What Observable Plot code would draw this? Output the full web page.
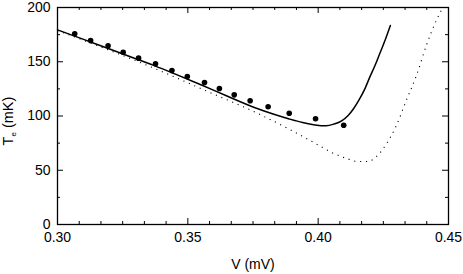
<!DOCTYPE html>
<html>
<head>
<meta charset="utf-8">
<script src="https://cdn.jsdelivr.net/npm/d3@7"></script>
<script src="https://cdn.jsdelivr.net/npm/@observablehq/plot@0.6"></script>
<style>
  html, body { margin: 0; padding: 0; background: #fff; }
  svg { display: block; }
</style>
</head>
<body>
<div id="chart"></div>
<script>
// Measured points (dots)
const dotsV = [0.3066,0.3127,0.3194,0.3252,0.3311,0.3376,0.3439,0.3498,0.3564,0.3621,0.3678,0.3739,0.3808,0.3889,0.3990,0.4098];
const dotsT = [175.8,169.6,164.7,158.8,153.3,148.1,141.9,136.4,130.9,125.3,119.5,114.0,108.5,102.6,97.4,91.5];

// Solid curve
const solidV = [0.300,0.310,0.320,0.330,0.3376,0.345,0.355,0.365,0.3758,0.3830,0.3886,0.3940,0.3988,0.4030,0.4060,0.4090,0.4115,0.4135,0.4159,0.4180,0.4198,0.4218,0.4236,0.4257,0.4277];
const solidT = [179.4,170.6,161.8,152.8,146.0,138.8,128.8,118.4,107.6,101.6,97.5,94.0,91.8,91.0,92.5,95.5,100.5,106.5,115.8,125.5,135.8,146.5,157.3,170.0,183.4];

// Dotted curve
const dottedV = [0.300,0.3185,0.3376,0.3567,0.3758,0.3886,0.3988,0.4058,0.4115,0.4153,0.4192,0.4224,0.4262,0.4300,0.4338,0.4377,0.4415,0.4453,0.4476];
const dottedT = [178.8,161.9,143.5,123.5,103.5,88.2,74.9,65.7,60.4,58.1,58.1,62.7,74.4,91.2,114.3,137.3,165.0,188.0,199.0];

// Axis ticks
const xMajor = [0.30, 0.35, 0.40, 0.45];
const xMinor = d3.range(0, 19).map(k => 0.30 + k * 0.05 / 6).filter((d, k) => k % 6 !== 0);
const yMajor = [0, 50, 100, 150, 200];
const yMinor = [25, 75, 125, 175];
const xLabel = "V (mV)";
const yLabelMain = "T";
const yLabelSub = "e";
const yLabelUnit = " (mK)";

const dots = dotsV.map((v, i) => ({V: v, T: dotsT[i]}));
const solid = solidV.map((v, i) => ({V: v, T: solidT[i]}));
const dotted = dottedV.map((v, i) => ({V: v, T: dottedT[i]}));

const W = 463, H = 274, mL = 57, mR = 15, mT = 7, mB = 50;
const iw = W - mL - mR, ih = H - mT - mB;
const majLen = 6, minLen = 3;
const font = "'Liberation Sans', Arial, Helvetica, sans-serif";

const plot = Plot.plot({
  width: W, height: H,
  marginLeft: mL, marginRight: mR, marginTop: mT, marginBottom: mB,
  style: {fontFamily: font, fontSize: "14px", color: "#000", background: "#fff"},
  x: {domain: [0.30, 0.45], axis: null},
  y: {domain: [0, 200], axis: null},
  marks: [
    Plot.line(dotted, {x: "V", y: "T", curve: "monotone-x", stroke: "#000", strokeWidth: 1.1, strokeDasharray: "1.1 4.8", strokeLinecap: "butt"}),
    Plot.line(solid, {x: "V", y: "T", curve: "monotone-x", stroke: "#000", strokeWidth: 1.5}),
    Plot.dot(dots, {x: "V", y: "T", r: 2.8, fill: "#000", stroke: null}),
    Plot.frame({stroke: "#000", strokeWidth: 1.3}),
    Plot.tickX(xMajor, {x: d => d, insetTop: ih - majLen, stroke: "#000"}),
    Plot.tickX(xMinor, {x: d => d, insetTop: ih - minLen, stroke: "#000"}),
    Plot.tickX(xMajor, {x: d => d, insetBottom: ih - majLen, stroke: "#000"}),
    Plot.tickX(xMinor, {x: d => d, insetBottom: ih - minLen, stroke: "#000"}),
    Plot.tickY(yMajor, {y: d => d, insetRight: iw - majLen, stroke: "#000"}),
    Plot.tickY(yMinor, {y: d => d, insetRight: iw - minLen, stroke: "#000"}),
    Plot.tickY(yMajor, {y: d => d, insetLeft: iw - majLen, stroke: "#000"}),
    Plot.tickY(yMinor, {y: d => d, insetLeft: iw - minLen, stroke: "#000"}),
    Plot.axisX({ticks: xMajor, tickSize: 0, tickPadding: 8, tickFormat: d3.format(".2f"), label: null, fontSize: 14}),
    Plot.axisY({ticks: yMajor, tickSize: 0, tickPadding: 7, tickFormat: d => String(d), label: null, fontSize: 14}),
    Plot.text([xLabel], {text: d => d, frameAnchor: "bottom", dy: 44, fontSize: 14, fill: "#000"})
  ]
});

const svg = d3.select(plot);
const yl = svg.append("text")
  .attr("transform", "translate(12.5,121) rotate(-90)")
  .attr("text-anchor", "middle")
  .attr("font-family", font)
  .attr("font-size", 14.5)
  .attr("fill", "#000");
yl.append("tspan").text(yLabelMain);
yl.append("tspan").attr("font-size", 8).attr("dy", 3).text(yLabelSub);
yl.append("tspan").attr("dy", -3).text(yLabelUnit);

document.getElementById("chart").appendChild(plot);
</script>
</body>
</html>
